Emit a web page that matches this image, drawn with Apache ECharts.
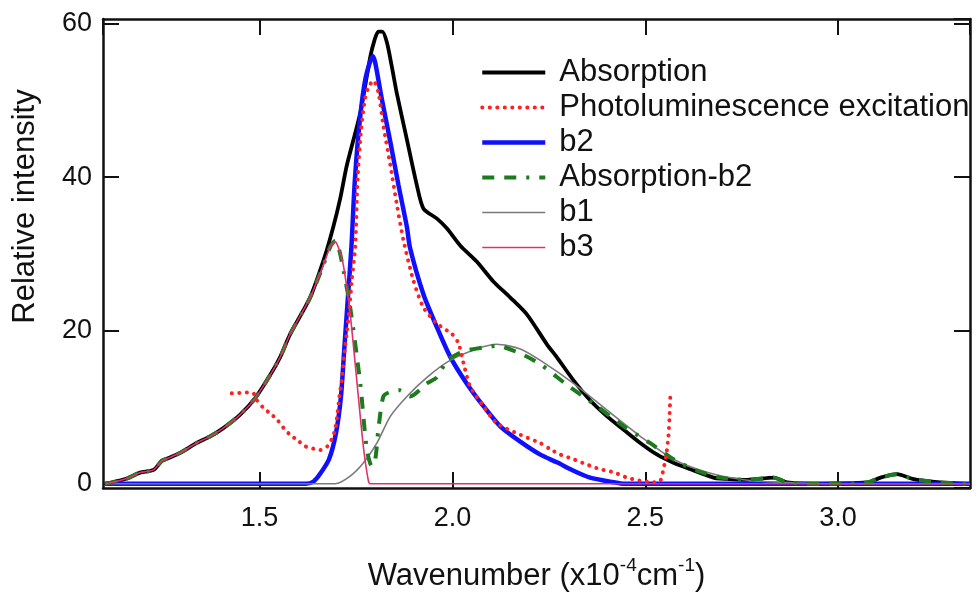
<!DOCTYPE html>
<html><head><meta charset="utf-8">
<script src="https://cdn.jsdelivr.net/npm/echarts@6/dist/echarts.min.js"></script>
<style>html,body{margin:0;padding:0;background:#fff}#c{width:976px;height:597px}</style>
</head><body><div id="c"></div>
<script>
// x = wavenumber (x10^-4 cm^-1), y = relative intensity
const absorption = [[1.099,0],[1.107,0.05],[1.156,0.68],[1.190,1.46],[1.225,1.81],[1.246,2.97],[1.259,3.26],[1.294,4.04],[1.337,5.33],[1.372,6.19],[1.406,7.26],[1.449,8.99],[1.488,11.14],[1.527,14.15],[1.553,16.5],[1.579,19.5],[1.631,24.3],[1.670,29.8],[1.691,33.5],[1.709,37.2],[1.726,41.5],[1.761,48.4],[1.787,55.7],[1.798,57.9],[1.808,59.0],[1.818,59.0],[1.830,57.6],[1.843,54.4],[1.856,50.9],[1.882,44.9],[1.908,38.9],[1.925,35.9],[1.960,34.6],[1.986,33.3],[2.020,31.1],[2.063,29.0],[2.106,26.4],[2.150,24.3],[2.193,22.1],[2.245,18.2],[2.271,16.5],[2.314,13.5],[2.357,10.9],[2.401,8.8],[2.444,7.06],[2.487,5.33],[2.530,3.83],[2.573,2.75],[2.617,1.90],[2.677,0.81],[2.695,0.68],[2.764,0.52],[2.833,0.81],[2.868,0.17],[2.936,0],[3.075,0.17],[3.110,0.81],[3.153,1.25],[3.196,0.6],[3.265,0.17],[3.334,0]];
const ple = [[1.428,11.8],[1.467,11.9],[1.484,11.8],[1.493,10.9],[1.510,9.9],[1.527,9.2],[1.545,8.4],[1.562,7.3],[1.579,6.4],[1.598,5.7],[1.618,4.9],[1.638,4.6],[1.657,4.4],[1.676,4.9],[1.687,5.8],[1.696,7.1],[1.702,9.2],[1.707,11.4],[1.713,13.5],[1.719,16.6],[1.726,19.6],[1.733,23.0],[1.739,26.5],[1.748,31.0],[1.754,39.6],[1.763,46.1],[1.774,50.4],[1.782,51.7],[1.795,52.6],[1.808,51.1],[1.821,46.7],[1.839,41.6],[1.856,36.4],[1.873,31.8],[1.899,26.5],[1.925,23.0],[1.960,20.9],[1.986,20.0],[2.000,19.5],[2.016,18.3],[2.029,15.7],[2.046,12.7],[2.081,10.1],[2.115,7.9],[2.176,6.4],[2.228,5.3],[2.254,4.5],[2.280,3.8],[2.314,3.2],[2.349,2.5],[2.383,1.9],[2.418,1.5],[2.453,0.8],[2.487,0.4],[2.522,0.2],[2.539,0.4],[2.547,1.9],[2.554,3.6],[2.560,6.2],[2.563,8.8],[2.565,11.6]];
const b2 = [[1.099,0],[1.620,0],[1.640,0.3],[1.657,1.3],[1.680,3.2],[1.698,6.6],[1.711,11.4],[1.720,17.9],[1.729,24.3],[1.738,30.8],[1.747,39.6],[1.760,47.5],[1.775,53.0],[1.794,55.8],[1.800,54.9],[1.817,50.2],[1.839,44.6],[1.860,39.0],[1.882,33.5],[1.890,30.8],[1.925,24.7],[1.960,20.4],[1.994,16.6],[2.037,13.1],[2.081,10.1],[2.124,7.5],[2.176,5.5],[2.228,3.8],[2.271,2.8],[2.314,1.7],[2.357,0.8],[2.418,0.2],[2.444,0],[3.342,0]];
const absMinusB2 = [[1.099,0],[1.107,0.05],[1.156,0.68],[1.190,1.46],[1.225,1.81],[1.246,2.97],[1.259,3.26],[1.294,4.04],[1.337,5.33],[1.372,6.19],[1.406,7.26],[1.449,8.99],[1.488,11.14],[1.527,14.15],[1.553,16.5],[1.579,19.5],[1.631,24.3],[1.665,28.5],[1.684,31.0],[1.696,31.7],[1.706,30.6],[1.717,28.0],[1.735,23.0],[1.761,13.1],[1.778,4.5],[1.791,2.3],[1.800,3.2],[1.808,7.1],[1.821,11.4],[1.839,12.0],[1.864,12.2],[1.890,11.4],[1.934,13.1],[1.960,13.9],[1.986,16.1],[2.012,16.9],[2.037,17.4],[2.081,17.8],[2.115,18.0],[2.176,17.0],[2.228,15.6],[2.297,12.9],[2.370,10.3],[2.444,7.5],[2.513,5.3],[2.573,3.2],[2.634,1.7],[2.695,0.8],[2.764,0.5],[2.833,0.8],[2.868,0.2],[2.936,0],[3.075,0.17],[3.110,0.8],[3.153,1.25],[3.196,0.6],[3.265,0.17],[3.334,0]];
const b1 = [[1.099,0],[1.696,0],[1.735,1.0],[1.769,2.7],[1.804,5.3],[1.839,8.8],[1.882,11.4],[1.934,13.9],[1.994,16.1],[2.063,17.6],[2.115,18.2],[2.176,17.6],[2.228,16.1],[2.314,13.1],[2.401,9.6],[2.487,6.2],[2.573,3.2],[2.660,1.5],[2.746,0.6],[2.850,0.2],[3.006,0],[3.342,0]];
const b3 = [[1.099,0],[1.107,0.05],[1.156,0.68],[1.190,1.46],[1.225,1.81],[1.246,2.97],[1.259,3.26],[1.294,4.04],[1.337,5.33],[1.372,6.19],[1.406,7.26],[1.449,8.99],[1.488,11.14],[1.527,14.15],[1.553,16.5],[1.579,19.5],[1.631,24.3],[1.665,28.5],[1.684,31.0],[1.696,31.6],[1.706,30.6],[1.717,28.6],[1.735,22.1],[1.752,13.5],[1.769,4.9],[1.782,0.4],[1.787,0],[3.342,0]];

const seriesNames = ['Absorption','Photoluminescence excitation','b2','Absorption-b2','b1','b3'];
const xRange = [1.094, 3.342];
const yRange = [-0.55, 60.65];

const FONT = '"Liberation Sans", Arial, Helvetica, sans-serif';
const chart = echarts.init(document.getElementById('c'), null, {renderer:'canvas'});

function line(name, data, color, width, type, z, cap) {
  return {
    name, type:'line', data, symbol:'none', showSymbol:false, smooth:0.25, z,
    lineStyle:{color, width, type, cap:cap||'butt'}, itemStyle:{color}, animation:false, silent:true
  };
}

function frameAxis(range, split, position) {
  return {
    type:'value', min:range[0], max:range[1], splitNumber:split, position,
    splitLine:{show:false},
    axisLine:{show:true, onZero:false, lineStyle:{color:'#111', width:2.5}},
    axisTick:{show:true, inside:true, length:16, lineStyle:{color:'#111', width:2}},
    axisLabel:{show:false}
  };
}

const xBottom = frameAxis(xRange, 5, 'bottom');
xBottom.axisLabel = {show:true, inside:false, fontSize:27, color:'#111', margin:17, fontFamily:FONT,
  showMinLabel:false, showMaxLabel:false, formatter:v=>v.toFixed(1)};
xBottom.name = '{a|Wavenumber (x10}{s|-4}{a|cm}{s|-1}{a|)}';
xBottom.nameLocation = 'middle';
xBottom.nameGap = 68;
xBottom.nameTextStyle = {fontFamily:FONT, rich:{
  a:{fontSize:31, color:'#111', fontFamily:FONT, lineHeight:36, verticalAlign:'bottom'},
  s:{fontSize:19, color:'#111', fontFamily:FONT, lineHeight:36, verticalAlign:'top', padding:[0,0,14,0]}
}};
const xTop = frameAxis(xRange, 5, 'top');

const yLeft = frameAxis(yRange, 3, 'left');
yLeft.axisLabel = {show:true, inside:false, fontSize:27, color:'#111', margin:11, fontFamily:FONT,
  showMinLabel:false, showMaxLabel:false};
yLeft.name = 'Relative intensity';
yLeft.nameLocation = 'middle';
yLeft.nameGap = 62;
yLeft.nameTextStyle = {fontSize:31, color:'#111', fontFamily:FONT, padding:[0,0,0,94]};
const yRight = frameAxis(yRange, 3, 'right');

chart.setOption({
  backgroundColor:'#fff',
  animation:false,
  textStyle:{fontFamily:FONT},
  grid:{left:103, right:6, top:19, bottom:105, containLabel:false},
  xAxis:[xBottom, xTop],
  yAxis:[yLeft, yRight],
  legend:{
    show:true, orient:'vertical', left:480, top:55, padding:0, itemWidth:63, itemHeight:14, itemGap:0,
    selectedMode:false, data:seriesNames,
    itemStyle:{opacity:0, color:'rgba(0,0,0,0)', borderWidth:0},
    lineStyle:{width:'inherit'},
    textStyle:{fontSize:31, color:'#111', fontFamily:FONT, lineHeight:35, padding:[0,0,0,9]}
  },
  series:[
    line('Absorption', absorption, '#000000', 3.8, 'solid', 2),
    line('b2', b2, '#1010ff', 4.5, 'solid', 3),
    line('b1', b1, '#7a7a7a', 1.6, 'solid', 4),
    line('Absorption-b2', absMinusB2, '#1d7a1d', 4, [12,10,12,10,3,10], 5),
    line('Photoluminescence excitation', ple, '#ff2020', 4, [0.1,7.4], 6, 'round'),
    line('b3', b3, '#e0306e', 1.6, 'solid', 7)
  ]
});
</script>
</body></html>
